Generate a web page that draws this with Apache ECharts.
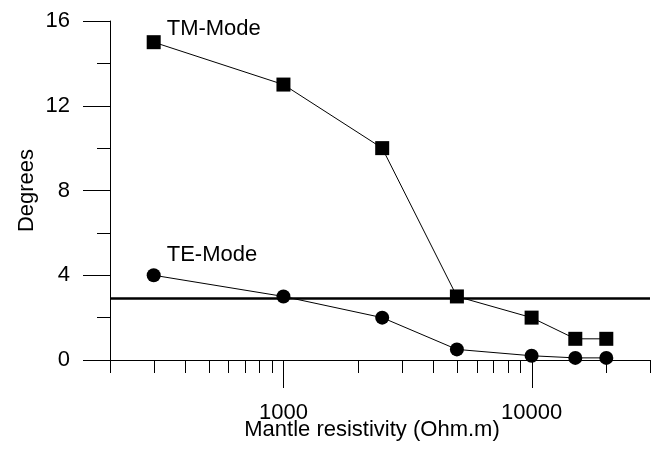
<!DOCTYPE html>
<html>
<head>
<meta charset="utf-8">
<script src="https://cdn.jsdelivr.net/npm/echarts@6/dist/echarts.min.js"></script>
<style>
  html, body { margin: 0; padding: 0; background: #fff; }
  #main { width: 655px; height: 449px; }
</style>
</head>
<body>
<div id="main"></div>
<script>
// data
var resistivity = [300, 1000, 2500, 5000, 10000, 15000, 20000];
var tmMode = [15, 13, 10, 3, 2, 1, 1];
var teMode = [4, 3, 2, 0.5, 0.2, 0.1, 0.1];
var threshold = 2.9;

// axis ticks
var xLabelValues = [1000, 10000];
var xMajorTicks = [1000, 10000];
var xMinorTicks = [200, 300, 400, 500, 600, 700, 800, 900,
  2000, 3000, 4000, 5000, 6000, 7000, 8000, 9000, 20000, 30000];

var font = '"Liberation Sans", Arial, sans-serif';
var fs = 22;

function pairs(xs, ys) {
  return xs.map(function (x, i) { return [x, ys[i]]; });
}

var tickData = xMinorTicks.map(function (v) { return [v, 0, 13]; })
  .concat(xMajorTicks.map(function (v) { return [v, 0, 28]; }));

var tmData = pairs(resistivity, tmMode);
tmData[0] = {
  value: tmData[0],
  label: { show: true, formatter: 'TM-Mode', position: [20, -6], align: 'left', verticalAlign: 'middle' }
};
var teData = pairs(resistivity, teMode);
teData[0] = {
  value: teData[0],
  label: { show: true, formatter: 'TE-Mode', position: [20, -13], align: 'left', verticalAlign: 'middle' }
};

var myChart = echarts.init(document.getElementById('main'));
var option = {
  animation: false,
  textStyle: { fontFamily: font },
  grid: { left: 110, right: 5, top: 21, bottom: 89, outerBoundsMode: 'none' },
  xAxis: {
    type: 'log',
    logBase: 10,
    min: 200,
    max: 30000,
    name: 'Mantle resistivity (Ohm.m)',
    nameLocation: 'middle',
    nameGap: 59,
    nameMoveOverlap: false,
    nameTextStyle: { color: '#000', fontSize: fs, fontFamily: font, padding: [0, 16, 0, 0] },
    axisLine: { lineStyle: { color: '#000', width: 1 } },
    axisTick: { show: false },
    splitLine: { show: false },
    axisLabel: {
      color: '#000',
      fontSize: fs,
      fontFamily: font,
      margin: 42,
      formatter: function (v) {
        var r = Math.round(v);
        return xLabelValues.indexOf(r) >= 0 ? String(r) : '';
      }
    }
  },
  yAxis: {
    type: 'value',
    min: 0,
    max: 16,
    interval: 4,
    name: 'Degrees',
    nameLocation: 'middle',
    nameGap: 72,
    nameMoveOverlap: false,
    nameTextStyle: { color: '#000', fontSize: fs, fontFamily: font },
    axisLine: { show: true, lineStyle: { color: '#000', width: 1 } },
    axisTick: { show: true, length: 27, lineStyle: { color: '#000' } },
    minorTick: { show: true, splitNumber: 2, length: 13, lineStyle: { color: '#000' } },
    splitLine: { show: false },
    axisLabel: { color: '#000', fontSize: fs, fontFamily: font, margin: 40 }
  },
  series: [
    {
      type: 'custom',
      silent: true,
      data: tickData,
      encode: { x: 0, y: 1 },
      renderItem: function (params, api) {
        var p = api.coord([api.value(0), 0]);
        var x = Math.round(p[0]) + 0.5;
        return {
          type: 'line',
          shape: { x1: x, y1: p[1], x2: x, y2: p[1] + api.value(2) },
          style: { stroke: '#000', lineWidth: 1 }
        };
      }
    },
    {
      name: 'TM-Mode',
      type: 'line',
      data: tmData,
      symbol: 'rect',
      symbolSize: 14,
      lineStyle: { color: '#000', width: 1 },
      itemStyle: { color: '#000' },
      label: { color: '#000', fontSize: fs, fontFamily: font },
      markLine: {
        silent: true,
        symbol: 'none',
        label: { show: false },
        lineStyle: { color: '#000', width: 2.5, type: 'solid' },
        data: [{ yAxis: threshold }]
      }
    },
    {
      name: 'TE-Mode',
      type: 'line',
      data: teData,
      symbol: 'circle',
      symbolSize: 14,
      lineStyle: { color: '#000', width: 1 },
      itemStyle: { color: '#000' },
      label: { color: '#000', fontSize: fs, fontFamily: font }
    }
  ]
};
myChart.setOption(option);
window.addEventListener('resize', function () { myChart.resize(); });
</script>
</body>
</html>
